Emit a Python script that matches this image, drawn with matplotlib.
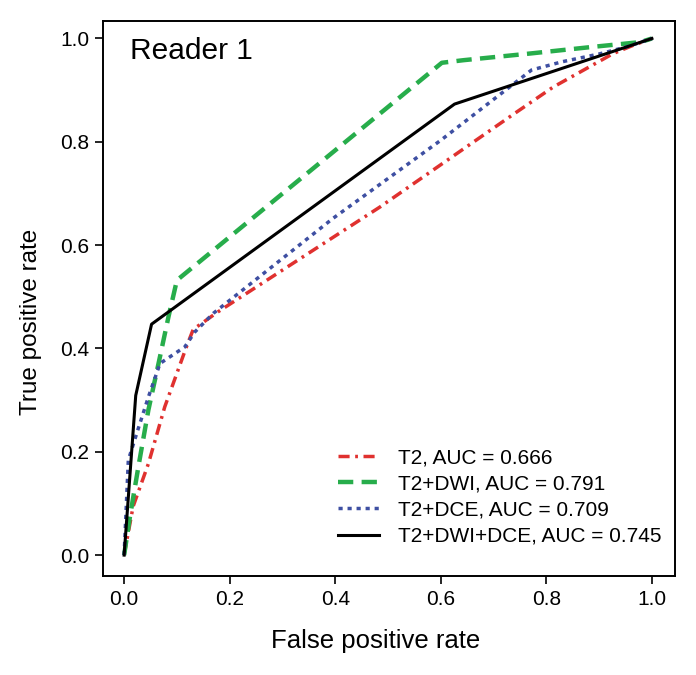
import numpy as np
import matplotlib.pyplot as plt

plt.rcParams['font.family'] = ['Liberation Sans', 'DejaVu Sans']
plt.rcParams['lines.scale_dashes'] = False

# ROC points
t2_fpr = [0.0, 0.017, 0.046, 0.077, 0.10, 0.118, 0.131, 0.178, 0.485, 0.63, 0.74, 0.813, 0.927, 0.965, 1.0]
t2_tpr = [0.0, 0.094, 0.177, 0.287, 0.352, 0.403, 0.437, 0.471, 0.674, 0.777, 0.855, 0.906, 0.971, 0.987, 1.0]

dwi_fpr = [0.0, 0.011, 0.027, 0.046, 0.065, 0.084, 0.10, 0.602, 0.643, 0.77, 0.89, 0.978, 1.0]
dwi_tpr = [0.0, 0.074, 0.171, 0.281, 0.37, 0.461, 0.532, 0.953, 0.958, 0.971, 0.984, 0.993, 1.0]

dce_fpr = [0.0, 0.008, 0.024, 0.046, 0.068, 0.115, 0.134, 0.169, 0.396, 0.60, 0.772, 0.83, 0.90, 0.953, 1.0]
dce_tpr = [0.0, 0.184, 0.236, 0.306, 0.371, 0.403, 0.432, 0.468, 0.652, 0.803, 0.939, 0.955, 0.970, 0.984, 1.0]

all_fpr = [0.0, 0.022, 0.052, 0.626, 1.0]
all_tpr = [0.0, 0.309, 0.447, 0.873, 1.0]

labels = ['T2, AUC = 0.666', 'T2+DWI, AUC = 0.791',
          'T2+DCE, AUC = 0.709', 'T2+DWI+DCE, AUC = 0.745']

fig = plt.figure(figsize=(6.96, 6.75), dpi=100)
ax = fig.add_axes([0.148, 0.147, 0.822, 0.822])

ax.plot(t2_fpr, t2_tpr, color='#e0312f', lw=2.5, dashes=(8, 4, 2, 4), label=labels[0])
ax.plot(dwi_fpr, dwi_tpr, color='#27ad4b', lw=3.2, dashes=(11, 6), label=labels[1])
ax.plot(dce_fpr, dce_tpr, color='#3e4fa2', lw=2.5, dashes=(3, 3.5), label=labels[2])
ax.plot(all_fpr, all_tpr, color='black', lw=2.2, label=labels[3])

ax.set_xlim(-0.04, 1.044)
ax.set_ylim(-0.04, 1.034)
ticks = np.arange(0, 1.01, 0.2)
ax.set_xticks(ticks)
ax.set_yticks(ticks)
ax.set_xticklabels([f'{t:.1f}' for t in ticks])
ax.set_yticklabels([f'{t:.1f}' for t in ticks])
ax.tick_params(labelsize=15, length=6, width=1.2, direction='out', pad=4)
for s in ax.spines.values():
    s.set_linewidth(1.4)

# axis titles sit off-centre in the original, so place them by hand
fig.text(0.540, 0.040, 'False positive rate', fontsize=18.5, ha='center', va='baseline')
fig.text(0.045, 0.523, 'True positive rate', fontsize=17.5, ha='center', va='center',
         rotation=90)

ax.text(0.047, 0.945, 'Reader 1', transform=ax.transAxes, fontsize=21.5, va='center')

ax.legend(loc='lower left', bbox_to_anchor=(0.411, 0.054), frameon=False,
          fontsize=15, handlelength=1.95, handletextpad=0.9, labelspacing=0.34,
          borderpad=0, borderaxespad=0)

fig.savefig('out.png', dpi=100)
